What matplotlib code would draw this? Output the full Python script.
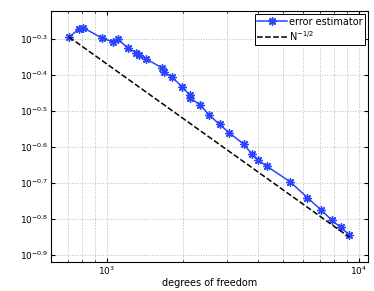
import numpy as np
import matplotlib
matplotlib.use("Agg")
from matplotlib import pyplot as plt
from matplotlib.ticker import FixedLocator, NullFormatter, LogLocator

# degrees of freedom and estimator values
dofs = [708, 775, 804, 955, 1061, 1105, 1211, 1308, 1339, 1426,
        1661, 1680, 1819, 1992, 2134, 2138, 2342, 2542, 2804, 3063,
        3496, 3760, 3989, 4309, 5338, 6258, 7109, 7824, 8489, 9173]
est = [0.5077, 0.5344, 0.5395, 0.5044, 0.4916, 0.5012, 0.4731, 0.4596, 0.4523, 0.4423,
       0.4162, 0.4064, 0.3922, 0.3692, 0.3500, 0.3434, 0.3294, 0.3090, 0.2900, 0.2751,
       0.2556, 0.2407, 0.2309, 0.2222, 0.2012, 0.1816, 0.1676, 0.1572, 0.1500, 0.1432]
ref_x = [708, 9173]
ref_y = [0.5077, 0.5077 * np.sqrt(708 / 9173)]
yexp = [-0.9, -0.8, -0.7, -0.6, -0.5, -0.4, -0.3]

fig = plt.figure(figsize=(3.74, 2.91), dpi=100)
ax = fig.add_axes([51/374, 1 - 262/291, 317/374, 251/291])

ax.loglog(dofs, est, '-', color='#2a45ff', lw=1.1, marker=(8, 2, 0), ms=6,
          mew=1.0, label='error estimator')
ax.loglog(ref_x, ref_y, '--', color='black', lw=1.1, label=r'N$^{-1/2}$')

ax.set_xlim(600, 10900)
ax.set_ylim(10**-0.92, 10**-0.222)
ax.yaxis.set_major_locator(FixedLocator([10**e for e in yexp]))
ax.yaxis.set_minor_locator(FixedLocator([]))
ax.set_yticklabels([r'$10^{%.1f}$' % e for e in yexp])
ax.xaxis.set_major_locator(FixedLocator([1e3, 1e4]))
ax.xaxis.set_minor_locator(LogLocator(base=10, subs=np.arange(2, 10)))
ax.xaxis.set_minor_formatter(NullFormatter())
ax.set_xticklabels([r'$10^{3}$', r'$10^{4}$'])

ax.grid(True, which='major', ls=':', color='#b8b8b8', lw=0.7)
ax.grid(True, which='minor', axis='x', ls=':', color='#b8b8b8', lw=0.7)
ax.tick_params(which='both', direction='in', top=True, right=True, labelsize=6.5, pad=2)
ax.tick_params(which='major', length=3)
ax.tick_params(which='minor', length=1.5)
for s in ax.spines.values():
    s.set_linewidth(0.8)

ax.set_xlabel('degrees of freedom', fontsize=7, labelpad=0.5)
leg = ax.legend(loc='upper right', fontsize=7, fancybox=False, framealpha=1,
                edgecolor='black', borderaxespad=0.3, handlelength=3,
                borderpad=0.3, labelspacing=0.2, handletextpad=0.2)
leg.get_frame().set_linewidth(0.7)

fig.savefig('out.png', dpi=100)
